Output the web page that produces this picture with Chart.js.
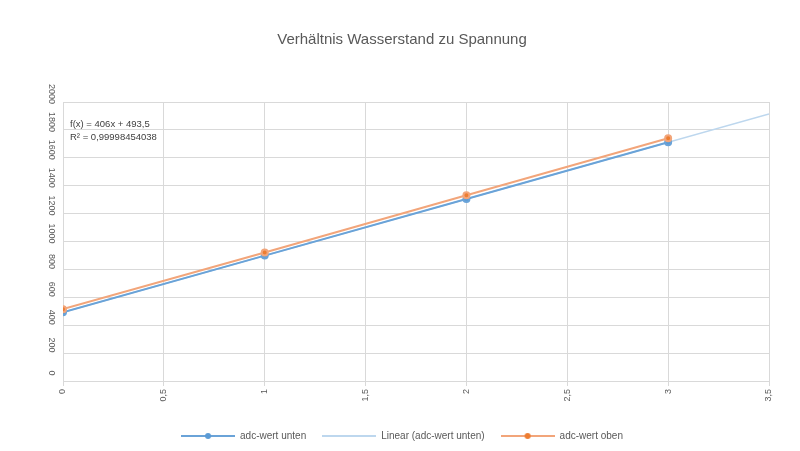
<!DOCTYPE html>
<html>
<head>
<meta charset="utf-8">
<script src="https://cdn.jsdelivr.net/npm/chart.js@4"></script>
<style>
  html, body { margin: 0; padding: 0; background: #fff; }
  #wrap { width: 800px; height: 451px; }
</style>
</head>
<body>
<div id="wrap"><canvas id="chart" width="800" height="451"></canvas></div>
<script>
// Wasserstand (x) vs. ADC-Wert (y)
const wasserstand = [0, 1, 2, 3];
const adcUnten = [493, 899, 1305, 1711];
const adcOben = [515, 921, 1331, 1740];
// Trendline endpoints as shown (0 .. 3.5)
const trendX = [0, 3.5];
const trendY = [493.5, 1914.5];
const yTicks = [0, 200, 400, 600, 800, 1000, 1200, 1400, 1600, 1800, 2000];
const trendText = ["f(x) = 406x + 493,5", "R\u00b2 = 0,99998454038"];

const grey = "#595959";
const fontFam = "'Liberation Sans', Arial, sans-serif";

function pts(xs, ys) {
  return xs.map((x, i) => ({ x: x, y: ys[i] }));
}

// small legend symbol: line with optional marker in the middle
function legendIcon(lineColor, dotColor) {
  const c = document.createElement("canvas");
  c.width = 54;
  c.height = 8;
  const g = c.getContext("2d");
  g.strokeStyle = lineColor;
  g.lineWidth = 2;
  g.beginPath();
  g.moveTo(0, 4);
  g.lineTo(54, 4);
  g.stroke();
  if (dotColor) {
    g.fillStyle = dotColor;
    g.beginPath();
    g.arc(27, 4, 3, 0, Math.PI * 2);
    g.fill();
  }
  return c;
}

// draw y tick labels rotated like the original and the trendline label
const extras = {
  id: "extras",
  afterDraw(chart) {
    const ctx = chart.ctx;
    const y = chart.scales.y;
    const area = chart.chartArea;
    ctx.save();
    ctx.fillStyle = grey;
    ctx.font = "9px " + fontFam;
    yTicks.forEach(v => {
      const py = y.getPixelForValue(v);
      ctx.save();
      ctx.translate(area.left - 12, py - 8);
      ctx.rotate(Math.PI / 2);
      ctx.textAlign = "center";
      ctx.textBaseline = "middle";
      ctx.fillText(String(v), 0, 0);
      ctx.restore();
    });
    ctx.font = "9.5px " + fontFam;
    ctx.textAlign = "left";
    ctx.textBaseline = "middle";
    ctx.fillStyle = "#404040";
    trendText.forEach((t, i) => {
      ctx.fillText(t, area.left + 7, area.top + 22 + i * 13);
    });
    ctx.restore();
  }
};

const icons = [
  legendIcon("#6AA3D8", "#5B9BD5"),
  legendIcon("#BDD7EE", null),
  legendIcon("#F2A57A", "#ED7D31")
];

new Chart(document.getElementById("chart").getContext("2d"), {
  type: "scatter",
  data: {
    datasets: [
      {
        label: "adc-wert unten",
        data: pts(wasserstand, adcUnten),
        showLine: true,
        borderColor: "#6AA3D8",
        backgroundColor: "#5B9BD5",
        borderWidth: 2,
        pointRadius: 3,
        order: 1
      },
      {
        label: "Linear (adc-wert unten)",
        data: pts(trendX, trendY),
        showLine: true,
        borderColor: "#BDD7EE",
        backgroundColor: "#BDD7EE",
        borderWidth: 1.5,
        pointRadius: 0,
        order: 2
      },
      {
        label: "adc-wert oben",
        data: pts(wasserstand, adcOben),
        showLine: true,
        borderColor: "#F2A57A",
        backgroundColor: "#ED7D31",
        borderWidth: 2,
        pointRadius: 3,
        order: 0
      }
    ]
  },
  options: {
    responsive: false,
    animation: false,
    layout: { padding: { left: 35, right: 31, top: 0, bottom: 0 } },
    plugins: {
      title: {
        display: true,
        text: "Verhältnis Wasserstand zu Spannung",
        color: grey,
        font: { family: fontFam, size: 15, weight: "normal" },
        padding: { top: 31, bottom: 53 }
      },
      legend: {
        position: "bottom",
        labels: {
          color: grey,
          font: { family: fontFam, size: 10 },
          usePointStyle: true,
          pointStyleWidth: 54,
          boxWidth: 54,
          padding: 16,
          generateLabels(chart) {
            const items = Chart.defaults.plugins.legend.labels.generateLabels(chart);
            items.forEach(it => { it.pointStyle = icons[it.datasetIndex]; });
            return items.sort((a, b) => a.datasetIndex - b.datasetIndex);
          }
        }
      },
      tooltip: { enabled: false }
    },
    scales: {
      x: {
        type: "linear",
        min: 0,
        max: 3.5,
        ticks: {
          stepSize: 0.5,
          minRotation: 90,
          maxRotation: 90,
          color: grey,
          font: { family: fontFam, size: 9 },
          callback: v => String(v).replace(".", ",")
        },
        grid: { color: "#d9d9d9", tickLength: 5 },
        border: { color: "#d9d9d9" },
        afterFit(s) { s.height = 34; }
      },
      y: {
        min: 0,
        max: 2000,
        ticks: { stepSize: 200, display: false },
        grid: { color: "#d9d9d9", tickLength: 0 },
        border: { display: false },
        afterFit(s) { s.width = 28; }
      }
    }
  },
  plugins: [extras]
});
</script>
</body>
</html>
